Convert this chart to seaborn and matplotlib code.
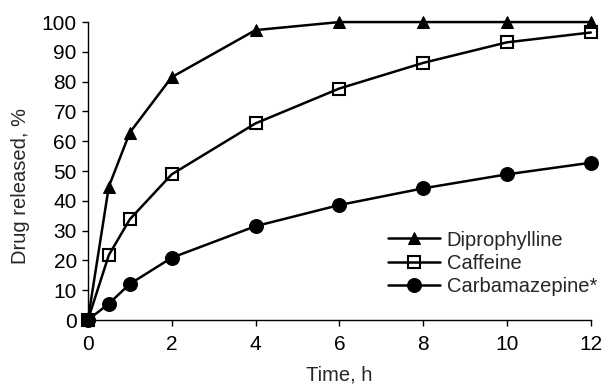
import matplotlib
matplotlib.use("Agg")
import matplotlib.pyplot as plt
import seaborn as sns
import pandas as pd

time_h = [0, 0.5, 1, 2, 4, 6, 8, 10, 12]
diprophylline = [0, 44.8, 62.9, 81.5, 97.3, 100, 100, 100, 100]
caffeine = [0, 21.8, 33.8, 48.9, 66.0, 77.7, 86.3, 93.2, 96.5]
carbamazepine = [0, 5.5, 12.1, 20.9, 31.5, 38.6, 44.2, 48.9, 52.8]
series_names = ["Diprophylline", "Caffeine", "Carbamazepine*"]

sns.set_style("white")
plt.rcParams['font.family'] = ['Liberation Sans', 'DejaVu Sans']
FS = 15

fig = plt.figure(figsize=(6.06, 3.87), dpi=100)
ax = fig.add_axes([0.145, 0.173, 0.830, 0.770])

styles = [
    dict(marker="^", markersize=9, markerfacecolor="black", markeredgecolor="black"),
    dict(marker="s", markersize=9, markerfacecolor="none", markeredgecolor="black", markeredgewidth=1.5),
    dict(marker="o", markersize=10, markerfacecolor="black", markeredgecolor="black"),
]
for name, vals, st in zip(series_names, [diprophylline, caffeine, carbamazepine], styles):
    df = pd.DataFrame({"t": time_h, "v": vals})
    sns.lineplot(data=df, x="t", y="v", ax=ax, color="black", linewidth=1.8,
                 label=name, clip_on=False, **st)

ax.set_xlim(0, 12)
ax.set_ylim(0, 100)
ax.set_xticks(range(0, 13, 2))
ax.set_yticks(range(0, 101, 10))
for s in ["top", "right"]:
    ax.spines[s].set_visible(False)
for s in ["left", "bottom"]:
    ax.spines[s].set_color("black")
    ax.spines[s].set_linewidth(1.0)
ax.tick_params(axis="both", direction="out", length=4, width=1, color="black",
               labelsize=FS, labelcolor="black", bottom=True, left=True)
ax.tick_params(axis="x", pad=7)
ax.tick_params(axis="y", pad=4)
ax.set_xlabel("Time, h", fontsize=14.5, labelpad=8)
ax.set_ylabel("Drug released, %", fontsize=14.5)
ax.yaxis.set_label_coords(-0.115, 0.45)

leg = ax.legend(loc="lower right", bbox_to_anchor=(1.028, 0.055), frameon=False,
                fontsize=14.5, handlelength=2.6, handletextpad=0.3, labelspacing=0.2,
                borderaxespad=0)
fig.savefig("out.png", dpi=100)
